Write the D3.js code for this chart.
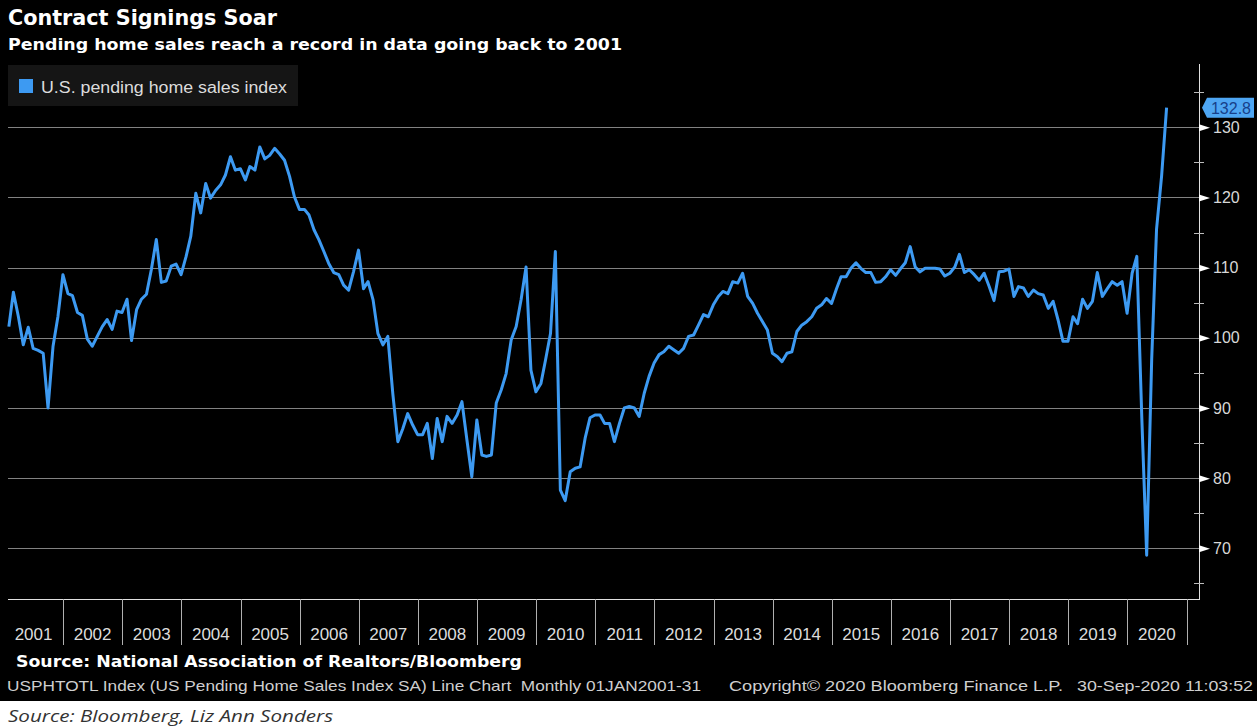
<!DOCTYPE html>
<html>
<head>
<meta charset="utf-8">
<script src="https://cdn.jsdelivr.net/npm/d3@7/dist/d3.min.js"></script>
<style>
  body { margin: 0; background: #fff; }
  svg { display: block; }
</style>
</head>
<body>
<div id="chart"></div>
<script>
// Monthly U.S. pending home sales index, Jan 2001 .. Aug 2020
const firstYear = 2001;
const indexValues = [
  101.6, 106.5, 103, 99, 101.5, 98.5, 98.2, 97.8, 90, 98.8, 103, 109,          // 2001
  106.3, 106, 103.6, 103.2, 99.8, 98.8, 100.2, 101.6, 102.6, 101.2, 103.8, 103.6, // 2002
  105.5, 99.6, 104, 105.5, 106.2, 109.7, 114, 107.9, 108.1, 110.2, 110.5, 109,  // 2003
  111.6, 114.5, 120.6, 117.8, 122, 119.9, 121, 121.8, 123.2, 125.8, 123.9, 124.1, // 2004
  122.5, 124.4, 123.9, 127.2, 125.5, 126, 127, 126.2, 125.3, 123, 120.1, 118.3, // 2005
  118.3, 117.5, 115.4, 114, 112.3, 110.6, 109.3, 109, 107.5, 106.8, 109.4, 112.5, // 2006
  107, 108, 105.4, 100.6, 99, 100.2, 92, 85.2, 87, 89.2, 87.6, 86.2,            // 2007
  86.2, 87.8, 82.8, 88.5, 85.2, 88.8, 87.8, 89, 90.9, 85.4, 80.2, 88.3,         // 2008
  83.3, 83.1, 83.3, 90.7, 92.6, 94.9, 99.7, 101.6, 105.4, 110.1, 95.4, 92.3,    // 2009
  93.5, 96.8, 100.6, 112.3, 78.3, 76.8, 80.9, 81.4, 81.6, 85.7, 88.6, 89,       // 2010
  89, 87.8, 87.8, 85.2, 87.8, 90, 90.2, 90, 88.8, 92.1, 94.5, 96.4,             // 2011
  97.6, 98, 98.8, 98.3, 97.8, 98.5, 100.2, 100.4, 101.8, 103.3, 103, 104.7,     // 2012
  105.9, 106.6, 106.3, 108, 107.8, 109.2, 105.9, 104.9, 103.5, 102.3, 101.1, 97.8, // 2013
  97.3, 96.6, 97.8, 98, 100.9, 101.8, 102.3, 103, 104.2, 104.7, 105.6, 104.9,   // 2014
  107, 108.7, 108.7, 109.9, 110.7, 109.9, 109.3, 109.3, 107.9, 108, 108.7, 109.7, // 2015
  108.9, 109.8, 110.7, 113, 110.1, 109.4, 109.9, 109.9, 109.9, 109.8, 108.8, 109.2, // 2016
  110.1, 111.9, 109.3, 109.7, 109, 108.2, 109.2, 107.3, 105.3, 109.4, 109.5, 109.8, // 2017
  105.9, 107.3, 107.1, 105.9, 106.8, 106.3, 106.1, 104.2, 105.2, 102.5, 99.5, 99.5, // 2018
  103, 102, 105.5, 104.2, 105.2, 109.3, 105.9, 107, 108, 107.5, 108, 103.5,     // 2019
  109.2, 111.6, 88.5, 69, 97, 115.5, 123, 132.8                                  // 2020
];
const yearLabels = ["2001","2002","2003","2004","2005","2006","2007","2008","2009","2010",
                    "2011","2012","2013","2014","2015","2016","2017","2018","2019","2020"];
const yTicks = [70, 80, 90, 100, 110, 120, 130];
const minorTicks = [65, 75, 85, 95, 105, 115, 125, 135];
const lastValue = 132.8;
const seriesName = "U.S. pending home sales index";

const W = 1257, H = 728;
const plot = { left: 8, right: 1199, top: 64, bottom: 599 };
const lineColor = "#3d9af2";

const svg = d3.select("#chart").append("svg")
  .attr("width", W)
  .attr("height", H);

// black terminal background, white strip below
svg.append("rect").attr("width", W).attr("height", 701).attr("fill", "#000");

const xScale = d3.scaleTime()
  .domain([new Date(2001, 0, 1), new Date(2021, 0, 1)])
  .range([4, 1186.5]);

const yScale = d3.scaleLinear()
  .domain([70, 130])
  .range([548.3, 127.3]);

// data points sit at month end
const series = indexValues.map((v, i) => ({ date: new Date(firstYear, i + 1, 0), value: v }));

// Title block
svg.append("text")
  .attr("x", 8).attr("y", 25)
  .attr("textLength", 269).attr("lengthAdjust", "spacingAndGlyphs")
  .style("font", "bold 21px 'DejaVu Sans'")
  .attr("fill", "#fff")
  .text("Contract Signings Soar");

svg.append("text")
  .attr("x", 8).attr("y", 50)
  .attr("textLength", 614).attr("lengthAdjust", "spacingAndGlyphs")
  .style("font", "bold 15px 'DejaVu Sans'")
  .attr("fill", "#fff")
  .text("Pending home sales reach a record in data going back to 2001");

// Gridlines
svg.append("g")
  .selectAll("line")
  .data(yTicks)
  .join("line")
  .attr("x1", plot.left).attr("x2", plot.right)
  .attr("y1", d => Math.round(yScale(d)) + 0.5)
  .attr("y2", d => Math.round(yScale(d)) + 0.5)
  .attr("stroke", "#828282")
  .attr("stroke-width", 1);

// Legend
svg.append("rect")
  .attr("x", 8).attr("y", 65).attr("width", 290).attr("height", 41)
  .attr("fill", "#151515");
svg.append("rect")
  .attr("x", 19).attr("y", 79).attr("width", 14).attr("height", 14)
  .attr("fill", lineColor);
svg.append("text")
  .attr("x", 41).attr("y", 93)
  .attr("textLength", 246).attr("lengthAdjust", "spacingAndGlyphs")
  .style("font", "16px 'Liberation Sans'")
  .attr("fill", "#dcdcdc")
  .text(seriesName);

// The series
const line = d3.line()
  .x(d => xScale(d.date))
  .y(d => yScale(d.value));

svg.append("path")
  .datum(series)
  .attr("d", line)
  .attr("fill", "none")
  .attr("stroke", lineColor)
  .attr("stroke-width", 3)
  .attr("stroke-linejoin", "round");

// Right axis
svg.append("line")
  .attr("x1", plot.right + 0.5).attr("x2", plot.right + 0.5)
  .attr("y1", plot.top).attr("y2", plot.bottom)
  .attr("stroke", "#e0e0e0");

const yAxis = svg.append("g")
  .attr("transform", `translate(${plot.right},0)`)
  .call(d3.axisRight(yScale).tickValues(yTicks).tickSize(0).tickPadding(14));
yAxis.select(".domain").remove();
yAxis.selectAll(".tick text")
  .attr("fill", "#d8d8d8")
  .style("font", "16px 'Liberation Sans'");
yAxis.selectAll(".tick")
  .append("path")
  .attr("d", "M0,-3.5L11,0L0,3.5Z")
  .attr("fill", "#fff");

svg.append("g")
  .selectAll("line")
  .data(minorTicks)
  .join("line")
  .attr("x1", plot.right - 5).attr("x2", plot.right + 5)
  .attr("y1", d => Math.round(yScale(d)) + 0.5)
  .attr("y2", d => Math.round(yScale(d)) + 0.5)
  .attr("stroke", "#bbb");

// Last value tag
const tagY = yScale(lastValue);
svg.append("path")
  .attr("d", `M${plot.right + 3},${tagY} L${plot.right + 8},${tagY - 10} L1254,${tagY - 10} L1254,${tagY + 10} L${plot.right + 8},${tagY + 10} Z`)
  .attr("fill", "#4ea6f3");
svg.append("text")
  .attr("x", 1231).attr("y", tagY + 6)
  .attr("text-anchor", "middle")
  .style("font", "16px 'Liberation Sans'")
  .attr("fill", "#17408a")
  .text(lastValue.toFixed(1));

// Bottom time axis: one band per year
svg.append("line")
  .attr("x1", plot.left).attr("x2", plot.right + 1)
  .attr("y1", plot.bottom + 0.5).attr("y2", plot.bottom + 0.5)
  .attr("stroke", "#e0e0e0");

const yearBands = yearLabels.map(y => ({
  label: y,
  x0: xScale(new Date(+y, 0, 1)),
  x1: xScale(new Date(+y + 1, 0, 1))
}));

svg.append("g")
  .selectAll("line")
  .data(yearBands)
  .join("line")
  .attr("x1", d => Math.round(d.x1) + 0.5).attr("x2", d => Math.round(d.x1) + 0.5)
  .attr("y1", plot.bottom).attr("y2", 645)
  .attr("stroke", "#b0b0b0");

svg.append("g")
  .selectAll("text")
  .data(yearBands)
  .join("text")
  .attr("x", d => (d.x0 + d.x1) / 2)
  .attr("y", 640)
  .attr("text-anchor", "middle")
  .style("font", "17px 'Liberation Sans'")
  .attr("fill", "#dcdcdc")
  .text(d => d.label);

// Footer
svg.append("text")
  .attr("x", 16).attr("y", 667)
  .attr("textLength", 506).attr("lengthAdjust", "spacingAndGlyphs")
  .style("font", "bold 16px 'DejaVu Sans'")
  .attr("fill", "#fff")
  .text("Source: National Association of Realtors/Bloomberg");

const footerBits = [
  { text: "USPHTOTL Index (US Pending Home Sales Index SA) Line Chart  Monthly 01JAN2001-31", x: 7, w: 694 },
  { text: "Copyright\u00A9 2020 Bloomberg Finance L.P.", x: 729, w: 334 },
  { text: "30-Sep-2020 11:03:52", x: 1077, w: 176 }
];
svg.append("g")
  .selectAll("text")
  .data(footerBits)
  .join("text")
  .attr("x", d => d.x).attr("y", 691)
  .attr("textLength", d => d.w).attr("lengthAdjust", "spacingAndGlyphs")
  .style("font", "15px 'Liberation Sans'")
  .style("white-space", "pre")
  .attr("fill", "#cfcfcf")
  .text(d => d.text);

svg.append("text")
  .attr("x", 8).attr("y", 722)
  .attr("textLength", 325).attr("lengthAdjust", "spacingAndGlyphs")
  .style("font", "italic 16px 'Open Sans'")
  .attr("fill", "#333")
  .text("Source: Bloomberg, Liz Ann Sonders");
</script>
</body>
</html>
